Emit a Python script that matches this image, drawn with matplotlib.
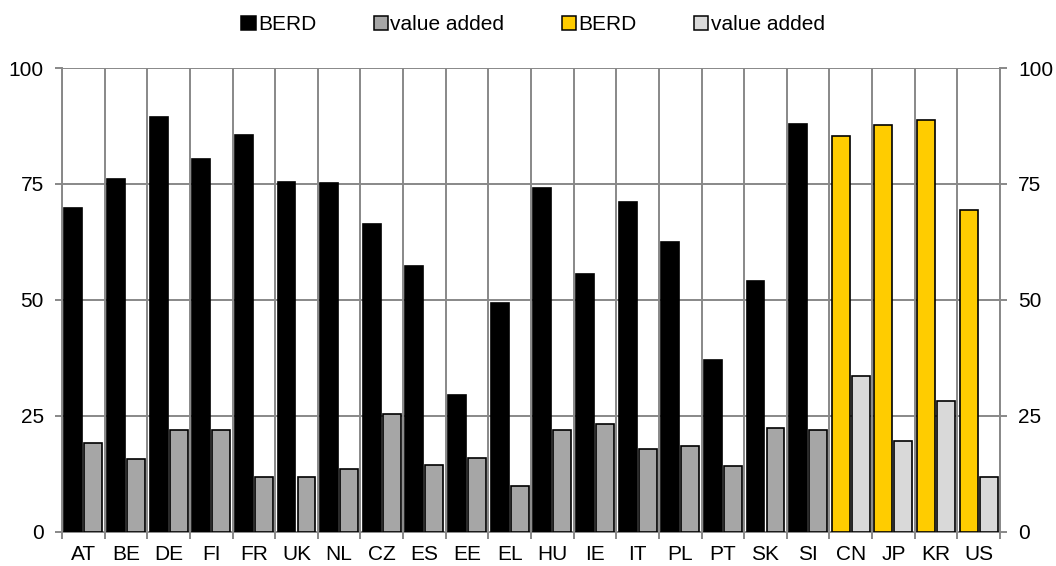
import matplotlib
matplotlib.use("Agg")
import matplotlib.pyplot as plt
import numpy as np
from matplotlib.patches import Patch

countries = ["AT", "BE", "DE", "FI", "FR", "UK", "NL", "CZ", "ES", "EE", "EL",
             "HU", "IE", "IT", "PL", "PT", "SK", "SI", "CN", "JP", "KR", "US"]
berd = [69.8, 76.0, 89.4, 80.4, 85.5, 75.3, 75.1, 66.4, 57.3, 29.4, 49.2,
        74.2, 55.6, 71.0, 62.4, 37.1, 54.1, 88.0, 85.3, 87.8, 88.7, 69.3]
value_added = [19.1, 15.6, 22.0, 21.8, 11.8, 11.8, 13.5, 25.3, 14.4, 15.9, 9.8,
               22.0, 23.3, 17.7, 18.4, 14.1, 22.3, 22.0, 33.5, 19.5, 28.2, 11.8]
eu_count = 18  # first 18 are European countries
yticks = [0, 25, 50, 75, 100]

plt.rcParams['font.family'] = ['Liberation Sans', 'DejaVu Sans']
FS = 15
GRID = '#888888'

fig = plt.figure(figsize=(10.56, 5.66), dpi=100)
ax = fig.add_axes([62/1056, 1 - 531.5/566, (1000-62)/1056, (531.5-68)/566])

n = len(countries)
x = np.arange(n)
w = 0.42
off = 0.235
berd_colors = ['#000000' if i < eu_count else '#FFCC00' for i in range(n)]
va_colors = ['#A6A6A6' if i < eu_count else '#D9D9D9' for i in range(n)]

ax.bar(x - off, berd, width=w, color=berd_colors, edgecolor='black', linewidth=1.2, zorder=3)
ax.bar(x + off, value_added, width=w, color=va_colors, edgecolor='black', linewidth=1.2, zorder=3)

ax.set_xlim(-0.5, n - 0.5)
ax.set_ylim(0, 100)
ax.set_yticks(yticks)
ax.set_xticks(x)
ax.set_xticklabels(countries, fontsize=FS)
ax.set_xticks(np.arange(-0.5, n, 1.0), minor=True)
ax.tick_params(axis='x', which='major', length=0, pad=10)
ax.tick_params(axis='x', which='minor', length=5, width=1.4, color=GRID)
ax.tick_params(axis='y', which='major', length=5, width=1.4, color=GRID,
               labelsize=FS, pad=8, left=True, right=True, labelleft=True, labelright=True)

ax.grid(True, axis='y', which='major', color=GRID, linewidth=1.4, zorder=0)
ax.grid(True, axis='x', which='minor', color=GRID, linewidth=1.4, zorder=0)
ax.grid(False, axis='x', which='major')
ax.set_axisbelow(True)

for s in ['left', 'right', 'bottom']:
    ax.spines[s].set_color(GRID)
    ax.spines[s].set_linewidth(1.4)
ax.spines['top'].set_visible(False)

handles = [
    Patch(facecolor='#000000', edgecolor='black', linewidth=1.1, label='BERD'),
    Patch(facecolor='#A6A6A6', edgecolor='black', linewidth=1.1, label='value added'),
    Patch(facecolor='#FFCC00', edgecolor='black', linewidth=1.1, label='BERD'),
    Patch(facecolor='#D9D9D9', edgecolor='black', linewidth=1.1, label='value added'),
]
fig.legend(handles=handles, loc='center', bbox_to_anchor=(533/1056, 1 - 25/566),
           ncol=4, frameon=False, fontsize=FS, handlelength=0.68, handleheight=0.68,
           handletextpad=0.12, columnspacing=2.75, borderaxespad=0)

fig.savefig('out.png', dpi=100)
